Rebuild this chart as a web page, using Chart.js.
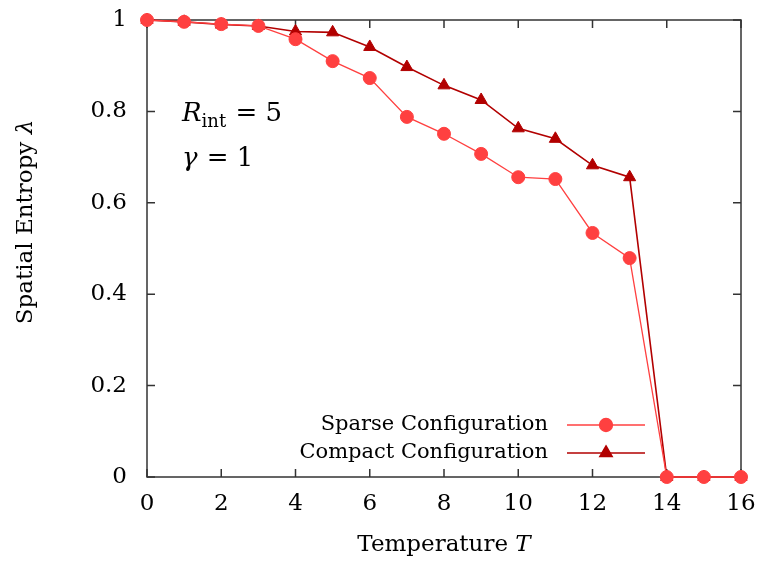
<!DOCTYPE html>
<html>
<head>
<meta charset="utf-8">
<script src="https://cdn.jsdelivr.net/npm/chart.js@4.4.1/dist/chart.umd.min.js"></script>
<style>
html,body{margin:0;padding:0;background:#fff}
</style>
</head>
<body>
<canvas id="myChart" width="760" height="566"></canvas>
<script>
// temperature T on the x axis
const temps = [0,1,2,3,4,5,6,7,8,9,10,11,12,13,14,15,16];
// spatial entropy
const sparse  = [1.0,0.996,0.991,0.987,0.958,0.910,0.873,0.788,0.751,0.707,0.656,0.652,0.534,0.479,0,0,0];
const compact = [1.0,0.996,0.990,0.987,0.975,0.973,0.941,0.897,0.857,0.825,0.763,0.740,0.682,0.656,0,0,0];
const xTicks = [0,2,4,6,8,10,12,14,16];
const yTicks = [0,0.2,0.4,0.6,0.8,1];
const seriesNames = ['Sparse Configuration','Compact Configuration'];

const serif = '"DejaVu Serif", "Liberation Serif", serif';
const sparseColor = 'rgb(255,64,64)';
const compactColor = 'rgb(178,0,0)';

function toPoints(vals){
    return temps.map((t,i) => ({x:t, y:vals[i]}));
}

// box round the plot with inward ticks on all four sides
const framePlugin = {
    id: 'frame',
    beforeDatasetsDraw(chart){
        const {ctx, chartArea:a, scales} = chart;
        ctx.save();
        ctx.strokeStyle = '#333';
        ctx.lineWidth = 1.5;
        ctx.strokeRect(a.left, a.top, a.right-a.left, a.bottom-a.top);
        ctx.beginPath();
        for(const v of xTicks){
            const px = scales.x.getPixelForValue(v);
            ctx.moveTo(px, a.bottom); ctx.lineTo(px, a.bottom-8);
            ctx.moveTo(px, a.top); ctx.lineTo(px, a.top+8);
        }
        for(const v of yTicks){
            const py = scales.y.getPixelForValue(v);
            ctx.moveTo(a.left, py); ctx.lineTo(a.left+8, py);
            ctx.moveTo(a.right, py); ctx.lineTo(a.right-8, py);
        }
        ctx.stroke();
        ctx.restore();
    }
};

// axis titles, text labels and the legend in the lower right corner
const textPlugin = {
    id: 'texts',
    afterDraw(chart){
        const {ctx, chartArea:a} = chart;
        ctx.save();
        ctx.fillStyle = '#000';
        ctx.textBaseline = 'alphabetic';
        ctx.textAlign = 'left';

        // x title
        ctx.font = '23px ' + serif;
        const w1 = ctx.measureText('Temperature ').width;
        ctx.font = 'italic 23px ' + serif;
        const w2 = ctx.measureText('T').width;
        let x0 = (a.left+a.right)/2 - (w1+w2)/2;
        ctx.font = '23px ' + serif;
        ctx.fillText('Temperature ', x0, 551);
        ctx.font = 'italic 23px ' + serif;
        ctx.fillText('T', x0+w1, 551);

        // y title
        ctx.save();
        ctx.translate(32, 222);
        ctx.rotate(-Math.PI/2);
        ctx.font = '23px ' + serif;
        const w3 = ctx.measureText('Spatial Entropy ').width;
        ctx.font = 'italic 23px ' + serif;
        const w4 = ctx.measureText('λ').width;
        ctx.font = '23px ' + serif;
        ctx.fillText('Spatial Entropy ', -(w3+w4)/2, 0);
        ctx.font = 'italic 23px ' + serif;
        ctx.fillText('λ', -(w3+w4)/2 + w3, 0);
        ctx.restore();

        // R_int = 5
        ctx.font = 'italic 26px ' + serif;
        ctx.fillText('R', 182, 121);
        let rx = 182 + ctx.measureText('R').width;
        ctx.font = '18px ' + serif;
        ctx.fillText('int', rx, 127);
        rx += ctx.measureText('int').width;
        ctx.font = '26px ' + serif;
        ctx.fillText(' = 5', rx+1, 121);

        // gamma = 1
        ctx.font = 'italic 26px ' + serif;
        ctx.fillText('γ', 182, 166);
        let gx = 182 + ctx.measureText('γ').width;
        ctx.font = '26px ' + serif;
        ctx.fillText(' = 1', gx+1, 166);

        // legend
        const rows = [425, 453];
        chart.data.datasets.forEach((ds, i) => {
            const y = rows[i];
            ctx.font = '21px ' + serif;
            ctx.textAlign = 'right';
            ctx.textBaseline = 'middle';
            ctx.fillStyle = '#000';
            ctx.fillText(seriesNames[i], 548, y);
            ctx.strokeStyle = ds.borderColor;
            ctx.lineWidth = ds.borderWidth;
            ctx.beginPath();
            ctx.moveTo(567, y); ctx.lineTo(645, y);
            ctx.stroke();
            ctx.fillStyle = ds.pointBackgroundColor;
            ctx.strokeStyle = ds.pointBorderColor;
            Chart.helpers.drawPoint(ctx, {pointStyle: ds.pointStyle, radius: ds.pointRadius, rotation: 0, borderWidth: 1}, 606, y);
        });
        ctx.restore();
    }
};

new Chart(document.getElementById('myChart'), {
    type: 'line',
    data: {
        datasets: [{
            label: seriesNames[0],
            data: toPoints(sparse),
            borderColor: sparseColor,
            borderWidth: 1.3,
            pointStyle: 'circle',
            pointRadius: 6.5,
            pointBackgroundColor: sparseColor,
            pointBorderColor: sparseColor,
            pointBorderWidth: 1,
            clip: false
        },{
            label: seriesNames[1],
            data: toPoints(compact),
            borderColor: compactColor,
            borderWidth: 1.6,
            pointStyle: 'triangle',
            pointRadius: 7,
            pointBackgroundColor: compactColor,
            pointBorderColor: compactColor,
            pointBorderWidth: 1,
            clip: false
        }]
    },
    options: {
        responsive: false,
        animation: false,
        devicePixelRatio: 1,
        layout: {padding: {top: 20, right: 19, left: 0, bottom: 0}},
        plugins: {legend: {display: false}, tooltip: {enabled: false}},
        scales: {
            x: {
                type: 'linear', min: 0, max: 16,
                afterBuildTicks: s => { s.ticks = xTicks.map(v => ({value: v})); },
                afterFit: s => { s.height = 89; s.paddingLeft = 0; s.paddingRight = 0; },
                grid: {display: false, drawTicks: false},
                border: {display: false},
                ticks: {color: '#000', padding: 13, font: {family: serif, size: 23}, callback: v => String(v)}
            },
            y: {
                type: 'linear', min: 0, max: 1,
                afterBuildTicks: s => { s.ticks = yTicks.map(v => ({value: v})); },
                afterFit: s => { s.width = 147; s.paddingTop = 0; s.paddingBottom = 0; },
                grid: {display: false, drawTicks: false},
                border: {display: false},
                ticks: {color: '#000', padding: 20, font: {family: serif, size: 23}, callback: v => String(v)}
            }
        }
    },
    plugins: [framePlugin, textPlugin]
});
</script>
</body>
</html>
